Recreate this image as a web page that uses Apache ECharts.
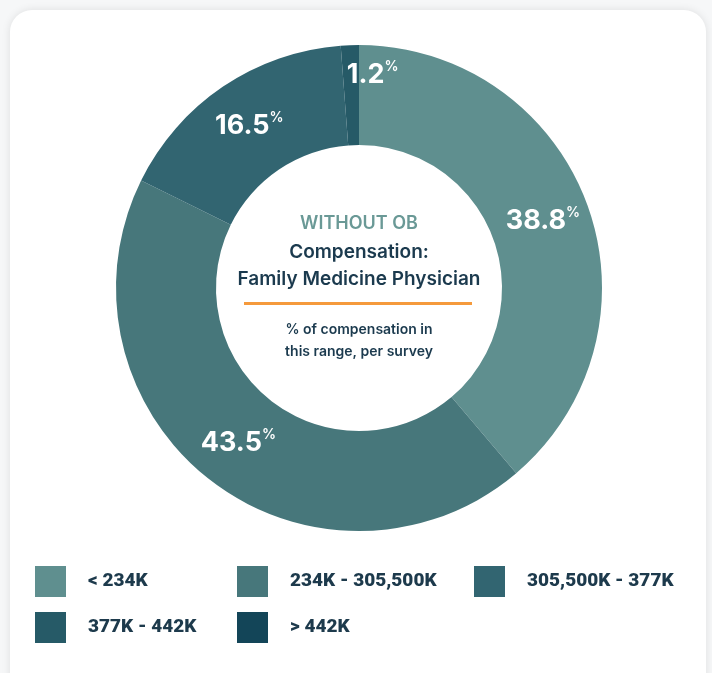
<!DOCTYPE html>
<html>
<head>
<meta charset="utf-8">
<script src="https://cdn.jsdelivr.net/npm/echarts@6/dist/echarts.min.js"></script>
<style>
  html, body { margin: 0; padding: 0; width: 712px; height: 673px; background: #f6f7f8; overflow: hidden; }
  #card { position: absolute; left: 10px; top: 10px; width: 696px; height: 700px; background: #fff; border-radius: 22px; box-shadow: 0 0 8px rgba(0,0,0,0.10); }
  #chart { position: absolute; left: 0; top: 0; width: 712px; height: 673px; }
</style>
</head>
<body>
<div id="card"></div>
<div id="chart"></div>
<script>
const categories = ['< 234K', '234K - 305,500K', '305,500K - 377K', '377K - 442K', '> 442K'];
const values = [38.8, 43.5, 16.5, 1.2, 0];
const colors = ['#5f8f8f', '#47777b', '#326571', '#265a67', '#134558'];
const centerTexts = ['WITHOUT OB', 'Compensation:', 'Family Medicine Physician', '% of compensation in', 'this range, per survey'];

const chart = echarts.init(document.getElementById('chart'));

const labelRich = {
  v: { fontSize: 27, fontWeight: 700, color: '#ffffff', fontFamily: 'Inter, sans-serif', lineHeight: 30 },
  p: { fontSize: 14, fontWeight: 600, color: '#ffffff', fontFamily: 'Inter, sans-serif', lineHeight: 15, verticalAlign: 'top', padding: [0, 0, 0, 0] }
};

const data = categories.map((c, i) => {
  const d = { name: c, value: values[i], itemStyle: { color: colors[i] } };
  if (values[i] === 0) d.label = { show: false };
  if (i === 3) d.label = { offset: [21, -17] };
  return d;
});

const legendCols = [[35, 566], [237, 566], [474, 566], [35, 612], [237, 612]];
const legends = categories.map((c, i) => ({
  data: [c],
  left: legendCols[i][0],
  top: legendCols[i][1],
  padding: 0,
  itemWidth: 31,
  itemHeight: 31,
  icon: 'rect',
  selectedMode: false,
  textStyle: { fontFamily: 'Roboto, sans-serif', fontWeight: 900, fontSize: 19, color: '#1d3a4c', padding: [0, 0, 0, 17] }
}));

const cx = 359, cy = 288;
chart.setOption({
  animation: false,
  color: colors,
  legend: legends,
  series: [{
    type: 'pie',
    center: [cx, cy],
    radius: [143, 243],
    startAngle: 90,
    clockwise: true,
    avoidLabelOverlap: false,
    silent: true,
    label: {
      show: true,
      position: 'inside',
      formatter: p => '{v|' + p.value + '}{p|%}',
      rich: labelRich
    },
    labelLine: { show: false },
    data: data
  }],
  graphic: [
    { type: 'text', x: cx, y: 224, style: { text: centerTexts[0], textAlign: 'center', textVerticalAlign: 'middle', fontFamily: 'Inter, sans-serif', fontWeight: 600, fontSize: 18, fill: '#6a9996' } },
    { type: 'text', x: cx, y: 252, style: { text: centerTexts[1], textAlign: 'center', textVerticalAlign: 'middle', fontFamily: 'Inter, sans-serif', fontWeight: 600, fontSize: 19, fill: '#1b3a4e' } },
    { type: 'text', x: cx, y: 279, style: { text: centerTexts[2], textAlign: 'center', textVerticalAlign: 'middle', fontFamily: 'Inter, sans-serif', fontWeight: 600, fontSize: 19, fill: '#1b3a4e' } },
    { type: 'rect', shape: { x: 244, y: 302, width: 228, height: 3 }, style: { fill: '#f59a3c' } },
    { type: 'text', x: cx, y: 330, style: { text: centerTexts[3], textAlign: 'center', textVerticalAlign: 'middle', fontFamily: 'Inter, sans-serif', fontWeight: 600, fontSize: 14, fill: '#1b3a4e' } },
    { type: 'text', x: cx, y: 352, style: { text: centerTexts[4], textAlign: 'center', textVerticalAlign: 'middle', fontFamily: 'Inter, sans-serif', fontWeight: 600, fontSize: 14, fill: '#1b3a4e' } },
    { type: 'polyline', shape: { points: [[358, 95], [401, 95], [401, 87]] }, style: { stroke: '#265a67', lineWidth: 2.5, fill: null } }
  ]
});
</script>
</body>
</html>
